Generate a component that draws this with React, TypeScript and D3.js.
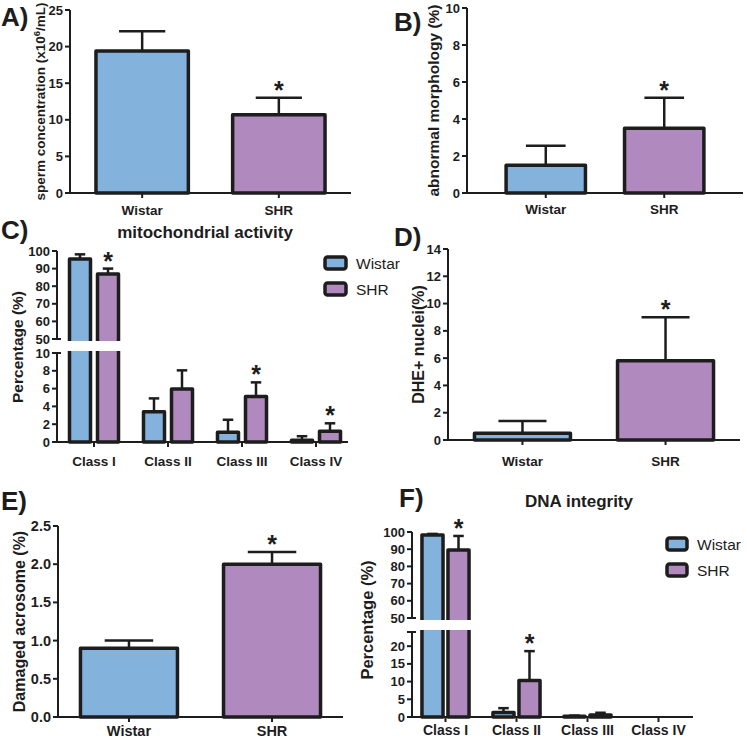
import React from "react";
import * as d3 from "d3";

// ---------- data ----------
const groups = ["Wistar", "SHR"];
const classes = ["Class I", "Class II", "Class III", "Class IV"];

const spermMean = [19.4, 10.7];
const spermErr = [2.7, 2.3];
const spermSig = [false, true];
const spermTicks = [0, 5, 10, 15, 20, 25];

const morphMean = [1.5, 3.5];
const morphErr = [1.05, 1.65];
const morphSig = [false, true];
const morphTicks = [0, 2, 4, 6, 8, 10];

const dheMean = [0.5, 5.8];
const dheErr = [0.9, 3.2];
const dheSig = [false, true];
const dheTicks = [0, 2, 4, 6, 8, 10, 12, 14];

const acroMean = [0.9, 2.0];
const acroErr = [0.1, 0.16];
const acroSig = [false, true];
const acroTicks = [0, 0.5, 1.0, 1.5, 2.0, 2.5];

const mitoWistar = [95.5, 3.4, 1.1, 0.2];
const mitoWistarErr = [2.6, 1.5, 1.4, 0.45];
const mitoSHR = [87.0, 5.95, 5.1, 1.2];
const mitoSHRErr = [3.0, 2.1, 1.6, 0.9];
const mitoSig = [true, false, true, true];
const mitoUpperTicks = [50, 60, 70, 80, 90, 100];
const mitoLowerTicks = [0, 2, 4, 6, 8, 10];

const dnaWistar = [98.3, 1.3, 0.2, 0];
const dnaWistarErr = [0.6, 1.2, 0.2, 0];
const dnaSHR = [89.5, 10.3, 0.6, 0];
const dnaSHRErr = [8.2, 8.3, 0.6, 0];
const dnaSig = [true, true, false, false];
const dnaUpperTicks = [50, 60, 70, 80, 90, 100];
const dnaLowerTicks = [0, 5, 10, 15, 20];

const COLORS = ["#83b3dc", "#b089bf"];
const DARK = "#1d1d1d";
const FONT = "'Liberation Sans', Arial, sans-serif";

// ---------- simple two-bar panel ----------
function SimplePanel(p: any) {
  const x = d3
    .scaleBand()
    .domain(groups)
    .range([p.axisX, p.axisEnd])
    .paddingInner(p.pi)
    .paddingOuter(p.po);
  const y = d3.scaleLinear().domain([0, p.max]).range([p.y0, p.yTop]);
  const bw = x.bandwidth();
  return (
    <g>
      <text x={p.letterX} y={p.letterY} fontSize={26} fontWeight="bold" fill={DARK}>
        {p.letter}
      </text>
      {groups.map((g, i) => {
        const cx = (x(g) as number) + bw / 2;
        const top = y(p.mean[i]);
        const capY = y(p.mean[i] + p.err[i]);
        return (
          <g key={g}>
            <line x1={cx} x2={cx} y1={top} y2={capY} stroke={DARK} strokeWidth={2.5} />
            <line x1={cx - bw / 4} x2={cx + bw / 4} y1={capY} y2={capY} stroke={DARK} strokeWidth={2.5} />
            <rect
              x={x(g)}
              y={top}
              width={bw}
              height={p.y0 - top}
              fill={COLORS[i]}
              stroke={DARK}
              strokeWidth={3.5}
              strokeLinejoin="round"
            />
            {p.sig[i] && (
              <text x={cx} y={capY + 1} textAnchor="middle" fontSize={25} fontWeight="bold" fill={DARK}>
                *
              </text>
            )}
            <line x1={cx} x2={cx} y1={p.y0} y2={p.y0 + 5} stroke={DARK} strokeWidth={2} />
            <text x={cx} y={p.catY} textAnchor="middle" fontSize={p.catFont} fontWeight="bold" fill={DARK}>
              {g}
            </text>
          </g>
        );
      })}
      <line x1={p.axisX} x2={p.axisX} y1={p.yTop} y2={p.y0} stroke={DARK} strokeWidth={2} />
      <line x1={p.axisX} x2={p.axisEnd} y1={p.y0} y2={p.y0} stroke={DARK} strokeWidth={2} />
      {p.ticks.map((t: number) => (
        <g key={t}>
          <line x1={p.axisX - 5} x2={p.axisX} y1={y(t)} y2={y(t)} stroke={DARK} strokeWidth={2} />
          <text
            x={p.axisX - 7}
            y={y(t)}
            dy="0.35em"
            textAnchor="end"
            fontSize={p.tickFont}
            fontWeight="bold"
            fill={DARK}
          >
            {p.fmt ? p.fmt(t) : t}
          </text>
        </g>
      ))}
      <text
        transform={`translate(${p.labelX},${(p.y0 + p.yTop) / 2}) rotate(-90)`}
        textAnchor="middle"
        dy="0.35em"
        fontSize={p.labelFont}
        fontWeight="bold"
        fill={DARK}
      >
        {p.label}
      </text>
    </g>
  );
}

// ---------- broken-axis grouped panel ----------
function BrokenPanel(p: any) {
  const x0 = d3.scaleBand().domain(classes).range([p.axisX0, p.axisX1]).padding(0);
  const x1 = d3
    .scaleBand()
    .domain(groups)
    .range([0, x0.bandwidth()])
    .paddingInner(p.pi)
    .paddingOuter(p.po);
  const yLow = d3.scaleLinear().domain([0, p.lowMax]).range([p.y0, p.lowTop]);
  const yUp = d3.scaleLinear().domain([50, 100]).range([p.upBottom, p.upTop]);
  const y = (v: number) => (v >= 50 ? yUp(v) : yLow(Math.min(v, p.lowMax)));
  const bw = x1.bandwidth();
  const series = [
    { mean: p.wMean, err: p.wErr },
    { mean: p.sMean, err: p.sErr },
  ];
  return (
    <g>
      <text x={p.letterX} y={p.letterY} fontSize={26} fontWeight="bold" fill={DARK}>
        {p.letter}
      </text>
      <text x={p.titleX} y={p.titleY} textAnchor="middle" fontSize={17} fontWeight="bold" fill={DARK}>
        {p.title}
      </text>
      {classes.map((c, ci) => (
        <g key={c}>
          {groups.map((g, gi) => {
            const m = series[gi].mean[ci];
            const e = series[gi].err[ci];
            const bx = (x0(c) as number) + (x1(g) as number);
            const cx = bx + bw / 2;
            const top = y(m);
            const capY = y(m + e);
            return (
              <g key={g}>
                {e > 0 && (
                  <g>
                    <line x1={cx} x2={cx} y1={top} y2={capY} stroke={DARK} strokeWidth={2.5} />
                    <line x1={cx - bw / 4} x2={cx + bw / 4} y1={capY} y2={capY} stroke={DARK} strokeWidth={2.5} />
                  </g>
                )}
                {m > 0 && (
                  <rect
                    x={bx}
                    y={top}
                    width={bw}
                    height={p.y0 - top}
                    fill={COLORS[gi]}
                    stroke={DARK}
                    strokeWidth={3.5}
                    strokeLinejoin="round"
                  />
                )}
                {gi === 1 && p.sig[ci] && (
                  <text x={cx} y={capY + 1} textAnchor="middle" fontSize={25} fontWeight="bold" fill={DARK}>
                    *
                  </text>
                )}
              </g>
            );
          })}
          <line
            x1={(x0(c) as number) + x0.bandwidth() / 2}
            x2={(x0(c) as number) + x0.bandwidth() / 2}
            y1={p.y0}
            y2={p.y0 + 5}
            stroke={DARK}
            strokeWidth={2}
          />
          <text
            x={(x0(c) as number) + x0.bandwidth() / 2}
            y={p.catY}
            textAnchor="middle"
            fontSize={p.catFont}
            fontWeight="bold"
            fill={DARK}
          >
            {c}
          </text>
        </g>
      ))}
      {/* white break band */}
      <rect
        x={p.axisX - 8}
        y={p.upBottom + 2}
        width={p.axisEnd - p.axisX + 8}
        height={p.lowTop - p.upBottom - 4}
        fill="#ffffff"
      />
      {/* axes */}
      <line x1={p.axisX} x2={p.axisX} y1={p.upTop} y2={p.upBottom} stroke={DARK} strokeWidth={2} />
      <line x1={p.axisX} x2={p.axisX} y1={p.lowTop} y2={p.y0} stroke={DARK} strokeWidth={2} />
      <line x1={p.axisX - 5} x2={p.axisX + 4} y1={p.upBottom} y2={p.upBottom} stroke={DARK} strokeWidth={2} />
      <line x1={p.axisX - 5} x2={p.axisX + 4} y1={p.lowTop} y2={p.lowTop} stroke={DARK} strokeWidth={2} />
      <line x1={p.axisX} x2={p.axisEnd} y1={p.y0} y2={p.y0} stroke={DARK} strokeWidth={2} />
      {p.upTicks.map((t: number) => (
        <g key={"u" + t}>
          <line x1={p.axisX - 5} x2={p.axisX} y1={yUp(t)} y2={yUp(t)} stroke={DARK} strokeWidth={2} />
          <text x={p.axisX - 7} y={yUp(t)} dy="0.35em" textAnchor="end" fontSize={p.tickFont} fontWeight="bold" fill={DARK}>
            {t}
          </text>
        </g>
      ))}
      {p.lowTicks.map((t: number) => (
        <g key={"l" + t}>
          <line x1={p.axisX - 5} x2={p.axisX} y1={yLow(t)} y2={yLow(t)} stroke={DARK} strokeWidth={2} />
          <text x={p.axisX - 7} y={yLow(t)} dy="0.35em" textAnchor="end" fontSize={p.tickFont} fontWeight="bold" fill={DARK}>
            {t}
          </text>
        </g>
      ))}
      <text
        transform={`translate(${p.labelX},${p.labelY}) rotate(-90)`}
        textAnchor="middle"
        dy="0.35em"
        fontSize={p.labelFont}
        fontWeight="bold"
        fill={DARK}
      >
        {p.label}
      </text>
      {/* legend */}
      {groups.map((g, gi) => (
        <g key={"lg" + g}>
          <rect
            x={p.legX}
            y={p.legY + gi * p.legStep - 6}
            width={p.legW}
            height={12}
            rx={2.5}
            fill={COLORS[gi]}
            stroke={DARK}
            strokeWidth={3.5}
          />
          <text x={p.legX + p.legW + 10} y={p.legY + gi * p.legStep} dy="0.36em" fontSize={15.5} fill={DARK}>
            {g}
          </text>
        </g>
      ))}
    </g>
  );
}

export default function App() {
  return (
    <svg
      width={747}
      height={739}
      style={{ position: "absolute", left: 0, top: 0, fontFamily: FONT, background: "#fff" }}
    >
      <rect width={747} height={739} fill="#fff" />
      <SimplePanel
        letter="A)" letterX={1} letterY={26}
        axisX={70} axisEnd={351} yTop={10} y0={193} max={25}
        pi={0.324} po={0.19}
        mean={spermMean} err={spermErr} sig={spermSig} ticks={spermTicks}
        tickFont={13} catFont={13.5} catY={215}
        label={<>sperm concentration (x10<tspan dy="-5" fontSize={9.5}>6</tspan><tspan dy="5">/mL)</tspan></>}
        labelX={40} labelFont={13.5}
      />
      <SimplePanel
        letter="B)" letterX={394} letterY={31}
        axisX={467} axisEnd={743} yTop={8} y0={193} max={10}
        pi={0.33} po={0.33}
        mean={morphMean} err={morphErr} sig={morphSig} ticks={morphTicks}
        tickFont={13} catFont={13.5} catY={214}
        label="abnormal morphology (%)" labelX={434} labelFont={15.5}
      />
      <BrokenPanel
        letter="C)" letterX={1} letterY={239}
        title="mitochondrial activity" titleX={205} titleY={238}
        axisX={57} axisEnd={348} axisX0={57} axisX1={353}
        upTop={251} upBottom={339} lowTop={353} y0={442} lowMax={10}
        pi={0.25} po={0.446}
        wMean={mitoWistar} wErr={mitoWistarErr} sMean={mitoSHR} sErr={mitoSHRErr}
        sig={mitoSig} upTicks={mitoUpperTicks} lowTicks={mitoLowerTicks}
        tickFont={13} catFont={13.5} catY={466}
        label="Percentage (%)" labelX={18} labelY={347} labelFont={15.5}
        legX={325} legY={263} legStep={26} legW={21}
      />
      <SimplePanel
        letter="D)" letterX={394} letterY={246}
        axisX={448} axisEnd={740} yTop={249} y0={440} max={14}
        pi={0.329} po={0.185}
        mean={dheMean} err={dheErr} sig={dheSig} ticks={dheTicks}
        tickFont={13} catFont={13.5} catY={466}
        label="DHE+ nuclei(%)" labelX={418} labelFont={16}
      />
      <SimplePanel
        letter="E)" letterX={1} letterY={510}
        axisX={58} axisEnd={343} yTop={526} y0={717} max={2.5}
        pi={0.322} po={0.157}
        mean={acroMean} err={acroErr} sig={acroSig} ticks={acroTicks}
        fmt={(t: number) => t.toFixed(1)}
        tickFont={14.5} catFont={14.5} catY={736}
        label="Damaged acrosome (%)" labelX={19} labelFont={16}
      />
      <BrokenPanel
        letter="F)" letterX={399} letterY={507}
        title="DNA integrity" titleX={579} titleY={507}
        axisX={412} axisEnd={693} axisX0={410} axisX1={694}
        upTop={532} upBottom={618} lowTop={632} y0={717} lowMax={24}
        pi={0.19} po={0.46}
        wMean={dnaWistar} wErr={dnaWistarErr} sMean={dnaSHR} sErr={dnaSHRErr}
        sig={dnaSig} upTicks={dnaUpperTicks} lowTicks={dnaLowerTicks}
        tickFont={13} catFont={14} catY={735}
        label="Percentage (%)" labelX={367} labelY={620} labelFont={16.5}
        legX={667} legY={544} legStep={26} legW={20}
      />
    </svg>
  );
}
